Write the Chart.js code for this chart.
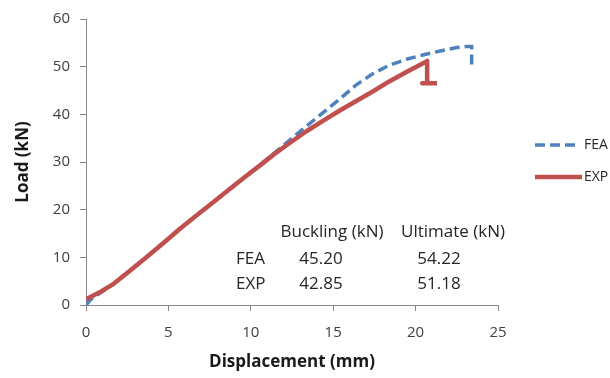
<!DOCTYPE html>
<html>
<head>
<meta charset="utf-8">
<script src="https://cdn.jsdelivr.net/npm/chart.js@4.4.1/dist/chart.umd.min.js"></script>
<style>
  html, body { margin: 0; padding: 0; background: #fff; }
  #wrap { width: 610px; height: 378px; }
</style>
</head>
<body>
<div id="wrap"><canvas id="chart"></canvas></div>
<script>
// values
const feaX = [0, 0.3, 1.7, 3.7, 5.7, 7.7, 9.7, 10.6, 11.4, 12.4, 13.4, 14.4, 15.4, 16.4, 17.4, 18.4, 19.5, 20.5, 21.5, 22.5, 23.1, 23.4, 23.4];
const feaY = [0, 1.2, 4.5, 10.1, 16.0, 21.5, 27.0, 29.5, 31.8, 34.7, 37.6, 40.4, 43.2, 46.2, 48.5, 50.3, 51.6, 52.5, 53.3, 54.0, 54.22, 54.22, 50.0];

const expX = [0, 0.8, 1.7, 2.7, 3.7, 4.7, 5.7, 6.7, 7.7, 8.7, 9.7, 10.6, 11.4, 12.4, 13.4, 14.4, 15.4, 16.4, 17.4, 18.4, 19.5, 20.6, 20.7, 20.7, 20.4, 21.3];
const expY = [1.2, 2.6, 4.5, 7.3, 10.1, 13.0, 16.0, 18.8, 21.5, 24.3, 27.0, 29.4, 31.6, 34.1, 36.5, 38.7, 40.8, 42.8, 44.8, 46.9, 49.0, 51.0, 51.2, 46.5, 46.5, 46.5];

const seriesNames = ['FEA', 'EXP'];
const tableHeaders = ['Buckling (kN)', 'Ultimate (kN)'];
const bucklingLoads = ['45.20', '42.85'];
const ultimateLoads = ['54.22', '51.18'];

const xTicks = { min: 0, max: 25, step: 5 };
const yTicks = { min: 0, max: 60, step: 10 };

const blue = '#4F81BD';
const red = '#C0504D';
const axisGrey = '#868686';
const textGrey = '#404040';
const font = '"Open Sans", sans-serif';

function points(xs, ys) {
    return xs.map((x, i) => ({ x: x, y: ys[i] }));
}

// small table of results inside the plot area
const resultsTable = {
    id: 'resultsTable',
    afterDatasetsDraw(chart) {
        const ctx = chart.ctx;
        ctx.save();
        ctx.font = '17px ' + font;
        ctx.fillStyle = '#262626';
        ctx.textBaseline = 'middle';
        ctx.textAlign = 'center';
        ctx.fillText(tableHeaders[0], 332, 232);
        ctx.fillText(tableHeaders[1], 453, 232);
        const rowsY = [259, 284];
        seriesNames.forEach((name, i) => {
            ctx.textAlign = 'left';
            ctx.fillText(name, 236, rowsY[i]);
            ctx.textAlign = 'center';
            ctx.fillText(bucklingLoads[i], 321, rowsY[i]);
            ctx.fillText(ultimateLoads[i], 439, rowsY[i]);
        });
        ctx.restore();
    }
};

// legend drawn by hand to sit where excel put it
const sideLegend = {
    id: 'sideLegend',
    afterDraw(chart) {
        const ctx = chart.ctx;
        const items = chart.data.datasets;
        const rowsY = [145, 177];
        ctx.save();
        items.forEach((ds, i) => {
            ctx.beginPath();
            ctx.strokeStyle = ds.borderColor;
            ctx.lineWidth = ds.borderWidth;
            ctx.setLineDash(ds.borderDash || []);
            ctx.moveTo(535, rowsY[i]);
            ctx.lineTo(i === 0 ? 577 : 582, rowsY[i]);
            ctx.stroke();
            ctx.setLineDash([]);
            ctx.font = '14px ' + font;
            ctx.fillStyle = '#262626';
            ctx.textBaseline = 'middle';
            ctx.textAlign = 'left';
            ctx.fillText(ds.label, 584, rowsY[i]);
        });
        ctx.restore();
    }
};

new Chart(document.getElementById('chart'), {
    type: 'scatter',
    data: {
        datasets: [
            {
                label: seriesNames[0],
                data: points(feaX, feaY),
                showLine: true,
                borderColor: blue,
                backgroundColor: blue,
                borderWidth: 3.5,
                borderDash: [10, 5],
                pointRadius: 0,
                tension: 0,
                order: 1
            },
            {
                label: seriesNames[1],
                data: points(expX, expY),
                showLine: true,
                borderColor: red,
                backgroundColor: red,
                borderWidth: 4.5,
                borderJoinStyle: 'round',
                pointRadius: 0,
                tension: 0,
                order: 0
            }
        ]
    },
    options: {
        responsive: true,
        maintainAspectRatio: false,
        animation: false,
        layout: { padding: { left: 0, right: 112, top: 17, bottom: 0 } },
        plugins: {
            legend: { display: false },
            tooltip: { enabled: false }
        },
        scales: {
            x: {
                type: 'linear',
                min: xTicks.min,
                max: xTicks.max,
                afterFit: (scale) => { scale.height = 73; },
                border: { display: true, color: axisGrey, width: 1 },
                grid: { drawOnChartArea: false, drawTicks: true, tickLength: 6, color: axisGrey },
                ticks: { stepSize: xTicks.step, padding: 13, color: textGrey, font: { family: font, size: 15 } },
                title: {
                    display: true,
                    text: 'Displacement (mm)',
                    color: '#1a1a1a',
                    font: { family: font, size: 17, weight: 'bold' },
                    padding: { top: 0, bottom: 6 }
                }
            },
            y: {
                type: 'linear',
                min: yTicks.min,
                max: yTicks.max,
                afterFit: (scale) => { scale.width = 86; },
                border: { display: true, color: axisGrey, width: 1 },
                grid: { drawOnChartArea: false, drawTicks: true, tickLength: 6, color: axisGrey },
                ticks: { stepSize: yTicks.step, padding: 10, color: textGrey, font: { family: font, size: 15 } },
                title: {
                    display: true,
                    text: 'Load (kN)',
                    color: '#1a1a1a',
                    font: { family: font, size: 17, weight: 'bold' },
                    padding: { top: 13, bottom: 0 }
                }
            }
        }
    },
    plugins: [resultsTable, sideLegend]
});
</script>
</body>
</html>
